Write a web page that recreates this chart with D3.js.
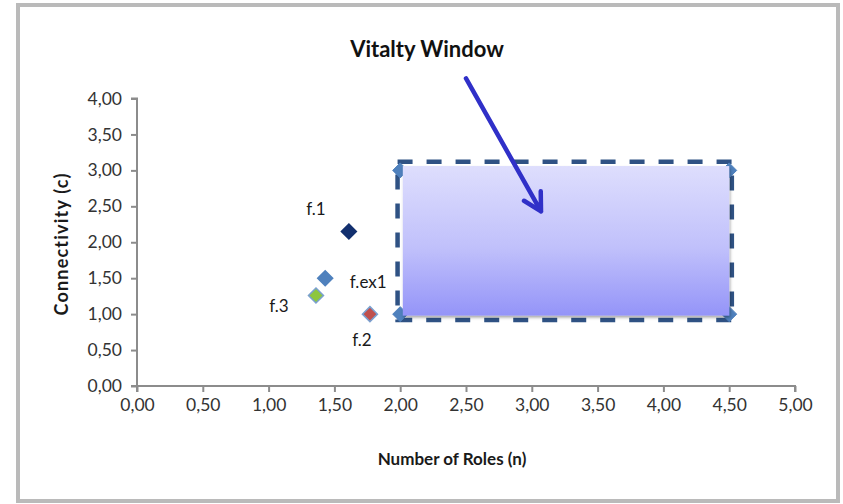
<!DOCTYPE html>
<html><head><meta charset="utf-8">
<script src="https://cdn.jsdelivr.net/npm/d3@7"></script>
<style>
html,body{margin:0;padding:0;background:#fff;}
svg{display:block;}
text{font-family:Lato, "Open Sans", sans-serif;}
</style></head>
<body>
<svg id="chart" width="843" height="504"></svg>
<script>
// ---- data ----
const xTicks = [0,0.5,1,1.5,2,2.5,3,3.5,4,4.5,5];
const yTicks = [0,0.5,1,1.5,2,2.5,3,3.5,4];
const pointNames = ["f.1","f.ex1","f.3","f.2"];
const pointN = [1.61, 1.43, 1.36, 1.77];
const pointC = [2.15, 1.50, 1.26, 1.00];
const pointColors = ["#13306f","#4f81bd","#8dc63f","#c0504d"];
const windowN = [2.0, 2.0, 4.5, 4.5];
const windowC = [1.0, 3.0, 3.0, 1.0];
const windowFrame = {n0:1.98, n1:4.52, c0:0.92, c1:3.12};
const windowFill = {n0:2.02, n1:4.50, c0:0.98, c1:3.06};
const arrowFrom = [2.50, 4.28];
const arrowTo = [3.07, 2.43];
const title = "Vitalty Window";
const xTitle = "Number of Roles (n)";
const yTitle = "Connectivity (c)";
const fmt = v => v.toFixed(2).replace(".", ",");

// ---- layout ----
const svg = d3.select("#chart");
const x = d3.scaleLinear().domain([0,5]).range([137,795]);
const y = d3.scaleLinear().domain([0,4]).range([386,98.5]);

const defs = svg.append("defs");
const grad = defs.append("linearGradient").attr("id","wg").attr("x1",0).attr("y1",0).attr("x2",0).attr("y2",1);
grad.append("stop").attr("offset","0%").attr("stop-color","#dedefd");
grad.append("stop").attr("offset","55%").attr("stop-color","#c0c0fb");
grad.append("stop").attr("offset","100%").attr("stop-color","#9494f8");
const sh = defs.append("filter").attr("id","sh").attr("x","-10%").attr("y","-10%").attr("width","120%").attr("height","130%");
sh.append("feDropShadow").attr("dx",1).attr("dy",2).attr("stdDeviation",1.5).attr("flood-color","#000").attr("flood-opacity",0.35);
const blur = defs.append("filter").attr("id","bl");
blur.append("feGaussianBlur").attr("stdDeviation",0.5);

// outer frame
svg.append("rect").attr("x",18).attr("y",5).attr("width",820).attr("height",496)
  .attr("fill","#fff").attr("stroke","#bababa").attr("stroke-width",4);

// gridlines
svg.append("g").selectAll("line").data(yTicks.filter(d=>d>0)).join("line")
  .attr("x1",x(0)).attr("x2",x(5)).attr("y1",d=>y(d)).attr("y2",d=>y(d))
  .attr("stroke","#a6a6a6").attr("stroke-width",2).attr("filter","url(#bl)");

// axes
const yAxis = svg.append("g").attr("transform",`translate(${x(0)},0)`)
  .call(d3.axisLeft(y).tickValues(yTicks).tickFormat(fmt).tickSize(6).tickPadding(9));
const xAxis = svg.append("g").attr("transform",`translate(0,${y(0)})`)
  .call(d3.axisBottom(x).tickValues(xTicks).tickFormat(fmt).tickSize(6).tickPadding(7));
[yAxis,xAxis].forEach(g=>{
  g.select(".domain").attr("stroke","#8c8c8c").attr("stroke-width",2);
  g.selectAll(".tick line").attr("stroke","#8c8c8c").attr("stroke-width",2);
  g.selectAll("text").attr("font-size",17.5).attr("fill","#333").attr("font-family","Lato");
});
xAxis.select(".domain").attr("d",`M${x(0)},6V0H${x(5)}V6`);
yAxis.select(".domain").attr("d",`M-6,${y(4)}H0V${y(0)}H-6`);

// window dashed frame
svg.append("rect")
  .attr("x",x(windowFrame.n0)).attr("y",y(windowFrame.c1))
  .attr("width",x(windowFrame.n1)-x(windowFrame.n0)).attr("height",y(windowFrame.c0)-y(windowFrame.c1))
  .attr("fill","none").attr("stroke","#2f5284").attr("stroke-width",4.5)
  .attr("stroke-dasharray","15,14");

const R = 7.5;
const diamond = `M0,${-R}L${R},0L0,${R}L${-R},0Z`;
// window corner markers
svg.append("g").selectAll("path").data(windowN.map((n,i)=>({n,c:windowC[i]}))).join("path")
  .attr("d",diamond).attr("transform",d=>`translate(${x(d.n)},${y(d.c)})`)
  .attr("fill","#4f81bd").attr("stroke","#4f81bd").attr("stroke-width",1);

// gradient window
svg.append("rect")
  .attr("x",x(windowFill.n0)).attr("y",y(windowFill.c1))
  .attr("width",x(windowFill.n1)-x(windowFill.n0)).attr("height",y(windowFill.c0)-y(windowFill.c1))
  .attr("fill","url(#wg)").attr("filter","url(#sh)");

// points
const pts = pointNames.map((name,i)=>({name,n:pointN[i],c:pointC[i],col:pointColors[i]}));
svg.append("g").selectAll("path").data(pts).join("path")
  .attr("d",diamond).attr("transform",d=>`translate(${x(d.n)},${y(d.c)})`)
  .attr("fill",d=>d.col).attr("stroke",(d,i)=>i>=2?"#7aa0d0":d.col).attr("stroke-width",1.5);

// point labels
const labelPos = [[-33,-21],[43,5],[-37,12],[-8,28]];
svg.append("g").selectAll("text").data(pts).join("text")
  .attr("x",(d,i)=>x(d.n)+labelPos[i][0]).attr("y",(d,i)=>y(d.c)+labelPos[i][1])
  .attr("text-anchor","middle").attr("dominant-baseline","middle")
  .attr("font-size",17).attr("fill","#1a1a1a").text(d=>d.name);

// arrow
const ax0 = x(arrowFrom[0]), ay0 = y(arrowFrom[1]), ax1 = x(arrowTo[0]), ay1 = y(arrowTo[1]);
const ang = Math.atan2(ay1-ay0, ax1-ax0);
const hl = 20, ha = 0.5;
svg.append("path")
  .attr("d",`M${ax0},${ay0}L${ax1},${ay1}M${ax1-hl*Math.cos(ang-ha)},${ay1-hl*Math.sin(ang-ha)}L${ax1},${ay1}L${ax1-hl*Math.cos(ang+ha)},${ay1-hl*Math.sin(ang+ha)}`)
  .attr("fill","none").attr("stroke","#3030c8").attr("stroke-width",4.5)
  .attr("stroke-linecap","round").attr("stroke-linejoin","round");

// titles
svg.append("text").attr("x",427).attr("y",51).attr("text-anchor","middle").attr("dominant-baseline","middle")
  .attr("font-size",22).attr("font-weight","bold").attr("fill","#111").text(title);
svg.append("text").attr("x",452).attr("y",461).attr("text-anchor","middle").attr("dominant-baseline","middle")
  .attr("font-size",17).attr("font-weight","bold").attr("fill","#1a1a1a").text(xTitle);
svg.append("text").attr("transform","translate(63,244) rotate(-90)").attr("text-anchor","middle").attr("dominant-baseline","middle")
  .attr("font-size",18).attr("font-weight","bold").attr("fill","#1a1a1a").attr("letter-spacing",1.2).text(yTitle);
</script>
</body></html>
